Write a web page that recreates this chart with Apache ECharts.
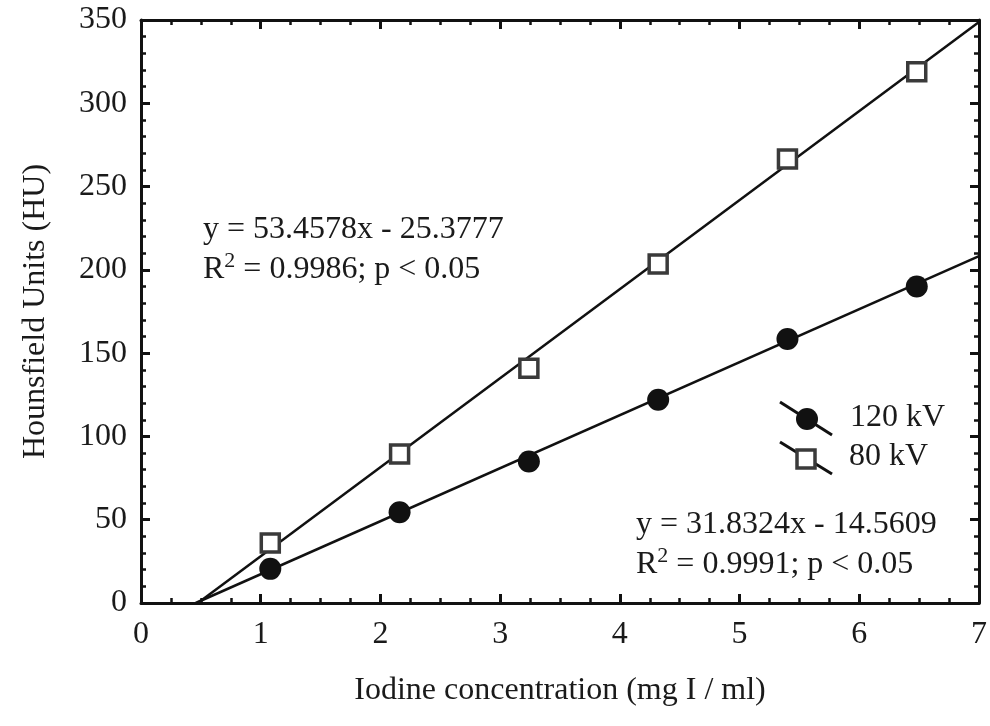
<!DOCTYPE html>
<html>
<head>
<meta charset="utf-8">
<script src="https://cdn.jsdelivr.net/npm/echarts@6/dist/echarts.min.js"></script>
<style>
  html, body { margin: 0; padding: 0; background: #fff; }
  #chart { width: 990px; height: 726px; }
</style>
</head>
<body>
<div id="chart"></div>
<script>
// concentrations (mg I / ml)
const conc = [1.08, 2.16, 3.24, 4.32, 5.40, 6.48];
// measured HU values
const hu120 = [20.5, 54.5, 85, 122, 158.5, 190];
const hu80 = [36, 89.5, 141, 203.5, 266.5, 319];
// regression line end points
const fit120 = [[0.457, 0], [7, 208.3]];
const fit80 = [[0.475, 0], [7, 348.8]];

const FONT = '"Liberation Serif", "DejaVu Serif", serif';
const INK = '#1a1a1a';

let myChart = echarts.init(document.getElementById('chart'));

function pts(xs, ys) {
  return xs.map((x, i) => [x, ys[i]]);
}

// frame axis: line + inward ticks, optional labels
function frameAxis(extra, minorSplit) {
  return Object.assign({
    type: 'value',
    axisLine: { onZero: false, lineStyle: { color: '#111', width: 3 } },
    axisTick: { inside: true, length: 9, lineStyle: { color: '#111', width: 3 } },
    minorTick: { show: true, splitNumber: minorSplit, length: 5, lineStyle: { color: '#111', width: 2.5 } },
    splitLine: { show: false }
  }, extra);
}

myChart.setOption({
  animation: false,
  backgroundColor: '#fff',
  grid: { left: 141, right: 6, top: 20, bottom: 123 },
  xAxis: [
    frameAxis({
      min: 0, max: 7, interval: 1, position: 'bottom',
      name: 'Iodine concentration (mg I / ml)',
      nameLocation: 'middle', nameGap: 72,
      nameTextStyle: { fontFamily: FONT, fontSize: 32, color: INK },
      axisLabel: { fontFamily: FONT, fontSize: 32, color: INK, margin: 16 }
    }, 4),
    frameAxis({
      min: 0, max: 7, interval: 1, position: 'top',
      axisLabel: { show: false }
    }, 4)
  ],
  yAxis: [
    frameAxis({
      min: 0, max: 350, interval: 50, position: 'left',
      name: 'Hounsfield Units (HU)',
      nameLocation: 'middle', nameGap: 89,
      nameTextStyle: { fontFamily: FONT, fontSize: 32, color: INK },
      axisLabel: { fontFamily: FONT, fontSize: 32, color: INK, margin: 14 }
    }, 5),
    frameAxis({
      min: 0, max: 350, interval: 50, position: 'right',
      axisLabel: { show: false }
    }, 5)
  ],
  series: [
    {
      name: 'fit 120', type: 'line', data: fit120, symbol: 'none',
      lineStyle: { color: '#111', width: 2.5 }, silent: true, z: 2
    },
    {
      name: 'fit 80', type: 'line', data: fit80, symbol: 'none',
      lineStyle: { color: '#111', width: 2.5 }, silent: true, z: 2
    },
    {
      name: '120 kV', type: 'scatter', data: pts(conc, hu120),
      symbol: 'circle', symbolSize: 22,
      itemStyle: { color: '#111', opacity: 1 }, z: 3
    },
    {
      name: '80 kV', type: 'scatter', data: pts(conc, hu80),
      symbol: 'rect', symbolSize: 18,
      itemStyle: { color: '#fff', borderColor: '#3a3a3a', borderWidth: 3.5, opacity: 1 }, z: 3
    }
  ],
  graphic: [
    // equation labels
    {
      type: 'text', left: 203, top: 210,
      style: {
        text: 'y = 53.4578x - 25.3777\n{r|R}{s|2}{r| = 0.9986; p < 0.05}',
        font: '32px ' + FONT, fill: INK, lineHeight: 40,
        rich: {
          r: { fontFamily: FONT, fontSize: 32, fill: INK, lineHeight: 40 },
          s: { fontFamily: FONT, fontSize: 22, fill: INK, verticalAlign: 'top', lineHeight: 40 }
        }
      }
    },
    {
      type: 'text', left: 636, top: 505,
      style: {
        text: 'y = 31.8324x - 14.5609\n{r|R}{s|2}{r| = 0.9991; p < 0.05}',
        font: '32px ' + FONT, fill: INK, lineHeight: 40,
        rich: {
          r: { fontFamily: FONT, fontSize: 32, fill: INK, lineHeight: 40 },
          s: { fontFamily: FONT, fontSize: 22, fill: INK, verticalAlign: 'top', lineHeight: 40 }
        }
      }
    },
    // legend
    { type: 'line', shape: { x1: 780, y1: 402, x2: 832, y2: 435 }, style: { stroke: '#111', lineWidth: 3 } },
    { type: 'circle', shape: { cx: 807, cy: 419, r: 11 }, style: { fill: '#111' } },
    { type: 'text', left: 850, top: 402, style: { text: '120 kV', font: '32px ' + FONT, fill: INK } },
    { type: 'line', shape: { x1: 780, y1: 442, x2: 832, y2: 474 }, style: { stroke: '#111', lineWidth: 3 } },
    { type: 'rect', shape: { x: 797, y: 450, width: 18, height: 18 }, style: { fill: '#fff', stroke: '#3a3a3a', lineWidth: 3.5 } },
    { type: 'text', left: 849, top: 441, style: { text: '80 kV', font: '32px ' + FONT, fill: INK } }
  ]
});
</script>
</body>
</html>
